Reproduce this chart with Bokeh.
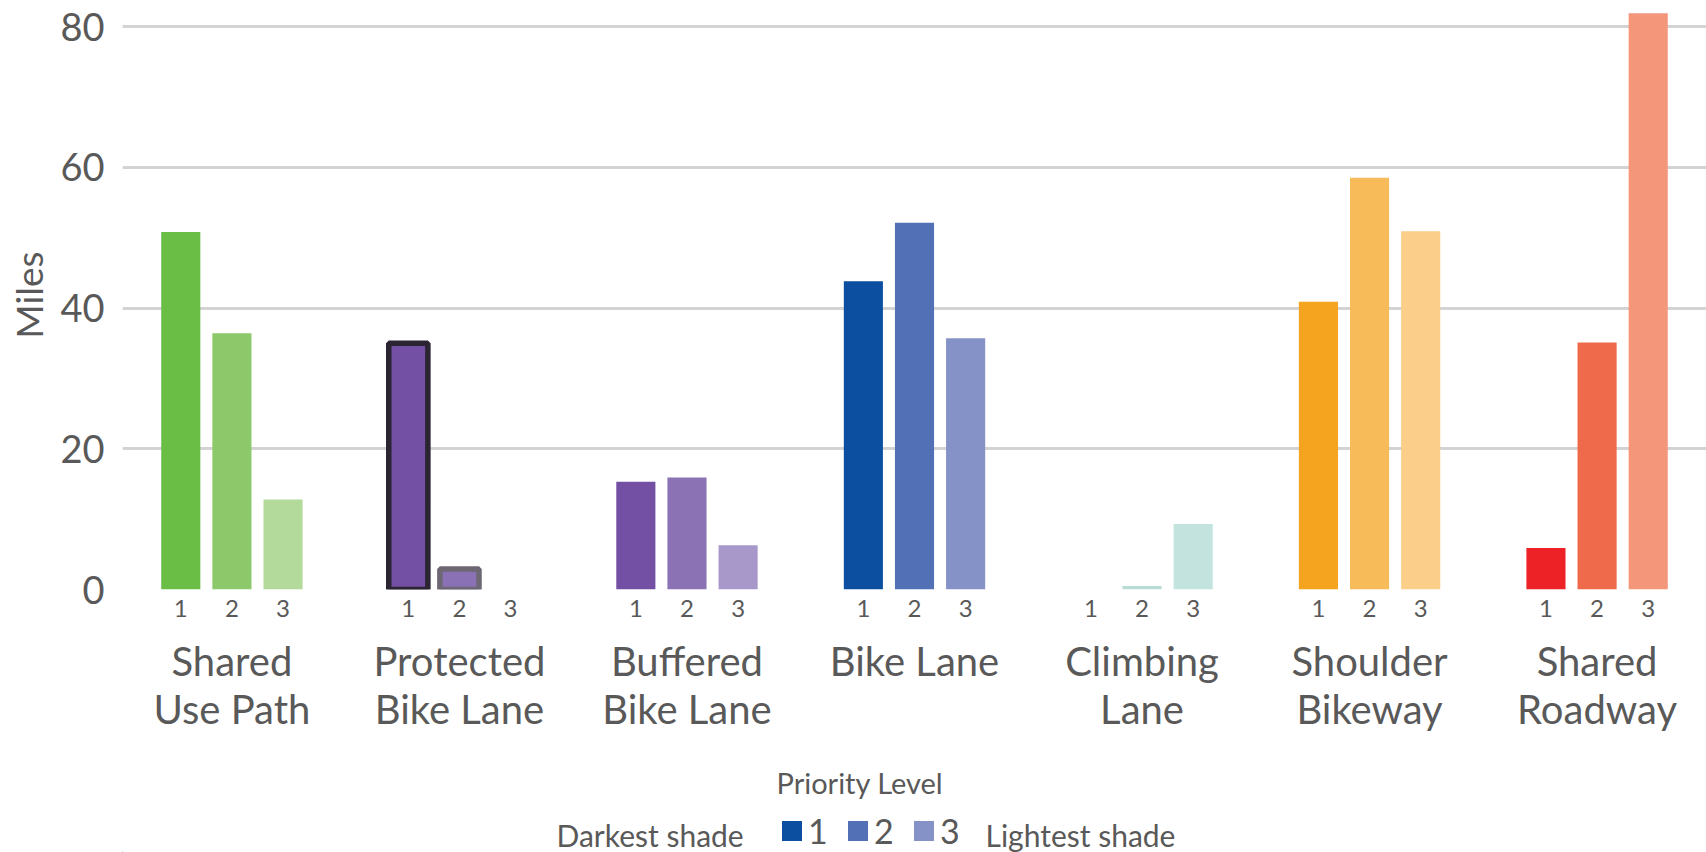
from bokeh.plotting import figure
from bokeh.models import (FactorRange, Range1d, ColumnDataSource, FixedTicker,
                          Legend, LegendItem, Label)
from bokeh.layouts import column
from bokeh.embed import file_html
from bokeh.resources import INLINE

# ---- data ----
categories = ["Shared\nUse Path", "Protected\nBike Lane", "Buffered\nBike Lane",
              "Bike Lane", "Climbing\nLane", "Shoulder\nBikeway", "Shared\nRoadway"]
priorities = ["1", "2", "3"]
priority_1 = [50.8, 35.0, 15.3, 43.8, 0.0, 40.9, 5.9]
priority_2 = [36.4, 2.9, 15.9, 52.1, 0.5, 58.5, 35.1]
priority_3 = [12.8, 0.0, 6.3, 35.7, 9.3, 50.9, 81.9]
y_ticks = [0, 20, 40, 60, 80]

colors_1 = ["#6abd45", "#7450a4", "#7450a4", "#0c4fa0", "#a8d6cc", "#f5a41f", "#ec2227"]
colors_2 = ["#8dc96a", "#8a70b5", "#8a72b4", "#5270b6", "#b9ddd5", "#f8bb5a", "#ef6a4b"]
colors_3 = ["#b3da9a", "#a898c9", "#a898c9", "#8592c8", "#c3e4de", "#fbce8a", "#f4967a"]
legend_colors = ["#0c4fa0", "#5270b6", "#8592c8"]

TEXT = "#595959"
FONT = "Lato"
FRAME_LEFT = 122
GAP = "\u00a0"   # blank middle level, used only to leave room above the group names

xs, vals, fills, lcols, lalphas = [], [], [], [], []
for i, c in enumerate(categories):
    for p_, series, cols in zip(priorities, [priority_1, priority_2, priority_3],
                                [colors_1, colors_2, colors_3]):
        xs.append((c, GAP, p_))
        vals.append(series[i])
        fills.append(cols[i])
        # Protected Bike Lane bars carry an outline in the reference
        if i == 1 and p_ == "1":
            lcols.append("#2b2433"); lalphas.append(1.0)
        elif i == 1 and p_ == "2":
            lcols.append("#6d6774"); lalphas.append(1.0)
        else:
            lcols.append(cols[i]); lalphas.append(0.0)

src = ColumnDataSource(dict(x=xs, top=vals, fill=fills, lc=lcols, la=lalphas))

x_range = FactorRange(*xs, group_padding=1.45, subgroup_padding=0.0, factor_padding=0.0,
                      range_padding=0.64, range_padding_units="absolute")

p = figure(width=1706, height=752, x_range=x_range, y_range=Range1d(0, 83.7),
           output_backend="svg", toolbar_location=None,
           min_border_left=FRAME_LEFT, min_border_right=0, min_border_top=0,
           min_border_bottom=163)
p.outline_line_color = None

p.vbar(x="x", top="top", width=0.765, source=src, fill_color="fill",
       line_color="lc", line_alpha="la", line_width=5.5)

# y axis
p.yaxis.ticker = FixedTicker(ticks=y_ticks)
p.yaxis.axis_line_color = None
p.yaxis.major_tick_line_color = None
p.yaxis.minor_tick_line_color = None
p.yaxis.major_label_text_font = FONT
p.yaxis.major_label_text_font_size = "38px"
p.yaxis.major_label_text_color = TEXT
p.yaxis.major_label_standoff = 12
p.yaxis.axis_label = "Miles"
p.yaxis.axis_label_text_font = FONT
p.yaxis.axis_label_text_font_size = "37px"
p.yaxis.axis_label_text_font_style = "normal"
p.yaxis.axis_label_text_color = TEXT
p.yaxis.axis_label_standoff = 6

p.ygrid.grid_line_color = "#d3d3d3"
p.ygrid.grid_line_width = 3
p.ygrid.ticker = FixedTicker(ticks=y_ticks)
p.xgrid.grid_line_color = None

# x axis
p.xaxis.axis_line_color = None
p.xaxis.major_tick_line_color = None
p.xaxis.minor_tick_line_color = None
p.xaxis.major_label_text_font = FONT
p.xaxis.major_label_text_font_size = "24px"
p.xaxis.major_label_text_color = TEXT
p.xaxis.major_label_standoff = 4
p.xaxis.subgroup_text_font_size = "6px"
p.xaxis.subgroup_text_color = TEXT
p.xaxis.group_text_font = FONT
p.xaxis.group_text_font_size = "40px"
p.xaxis.group_text_font_style = "normal"
p.xaxis.group_text_color = TEXT
p.xaxis.group_text_line_height = 1.0
p.xaxis.separator_line_color = None

# ---- legend strip (its frame is aligned with the chart frame by the column) ----
lg = figure(width=1706, height=100, x_range=Range1d(FRAME_LEFT, 1706),
            y_range=Range1d(0, 100),
            output_backend="svg", toolbar_location=None,
            x_axis_location=None, y_axis_location=None,
            min_border_left=0, min_border_right=0, min_border_top=0,
            min_border_bottom=0)
lg.outline_line_color = None
lg.xgrid.grid_line_color = None
lg.ygrid.grid_line_color = None

dummies = [lg.vbar(x=[-1000], top=[1], width=1, fill_color=c, line_color=None)
           for c in legend_colors]
legend = Legend(items=[LegendItem(label=lab, renderers=[r])
                       for lab, r in zip(priorities, dummies)],
                orientation="horizontal", location=(779 - FRAME_LEFT, 1),
                padding=0, margin=0, spacing=17, glyph_width=25, glyph_height=25,
                label_standoff=4, label_width=20,
                label_text_font=FONT, label_text_font_size="34px",
                label_text_color=TEXT, border_line_color=None,
                background_fill_alpha=0)
lg.add_layout(legend)

for txt, x, y, size in [("Priority Level", 776, 70, "29px"),
                        ("Darkest shade", 556, 18, "30px"),
                        ("Lightest shade", 985, 18, "30px")]:
    lg.add_layout(Label(x=x, y=y, text=txt,
                        text_font=FONT, text_font_size=size, text_color=TEXT,
                        text_baseline="alphabetic"))

layout = column(p, lg, spacing=0)
open("out.html", "w").write(file_html(layout, INLINE))
